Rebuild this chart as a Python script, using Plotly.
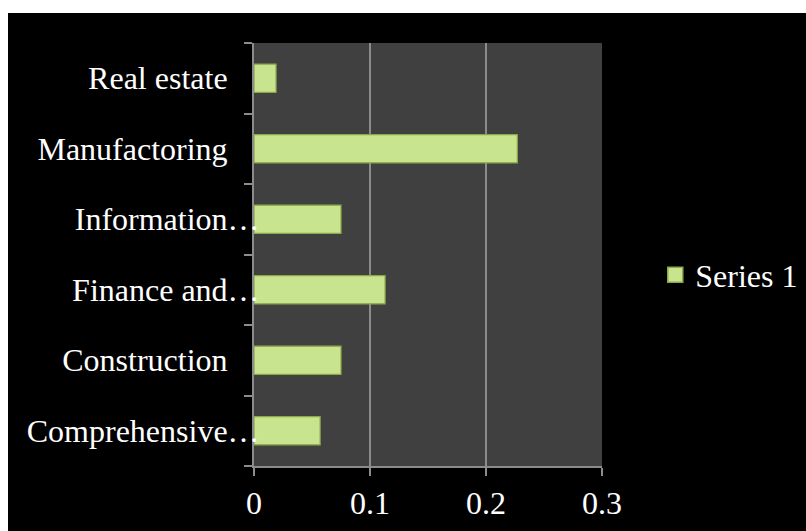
import plotly.graph_objects as go

categories = ["Comprehensive…", "Construction", "Finance and…", "Information…", "Manufactoring", "Real estate"]
tick_labels = ["Comprehensive…", "Construction\u00a0\u00a0\u00a0\u00a0", "Finance and…",
               "Information…", "Manufactoring\u00a0\u00a0\u00a0\u00a0", "Real estate\u00a0\u00a0\u00a0\u00a0"]
values = [0.057, 0.075, 0.113, 0.075, 0.227, 0.019]
x_ticks = [0, 0.1, 0.2, 0.3]
x_tick_labels = ["0", "0.1", "0.2", "0.3"]
series_name = "Series 1"

FONT = "Liberation Serif, Times New Roman, serif"
FS = 32
BAR_FILL = "#c9e48e"
BAR_EDGE = "#8ca94a"

fig = go.Figure()
fig.add_trace(go.Bar(
    y=categories, x=values, orientation="h", name=series_name, showlegend=False,
    marker=dict(color=BAR_FILL, line=dict(color=BAR_EDGE, width=1.2)),
))
# legend entry with a larger square swatch
fig.add_trace(go.Scatter(
    x=[None], y=[None], mode="markers", name=series_name, showlegend=True,
    marker=dict(symbol="square", size=15, color=BAR_FILL, line=dict(color=BAR_EDGE, width=1.5)),
))

fig.update_layout(
    width=806, height=531, autosize=False,
    margin=dict(l=254, r=204, t=43, b=65, autoexpand=False),
    paper_bgcolor="black", plot_bgcolor="#404040",
    font=dict(family=FONT, size=FS, color="white"),
    bargap=0.6,
    showlegend=True,
    legend=dict(xref="container", yref="container", x=0.813, y=(531 - 275) / 531,
                xanchor="left", yanchor="middle",
                bgcolor="rgba(0,0,0,0)", font=dict(size=FS, color="white"),
                itemwidth=30),
    shapes=[
        dict(type="rect", xref="paper", yref="paper", x0=-254/348, x1=(806-254)/348,
             y0=1 + 30/423, y1=1 + 43/423, fillcolor="white", line=dict(width=0), layer="above"),
        dict(type="rect", xref="paper", yref="paper", x0=-254/348, x1=-246/348,
             y0=-65/423, y1=1 + 43/423, fillcolor="white", line=dict(width=0), layer="above"),
    ],
)
fig.update_xaxes(
    range=[0, 0.3], tickvals=x_ticks, ticktext=x_tick_labels,
    showgrid=True, gridcolor="#8c8c8c", gridwidth=1.5,
    showline=True, linecolor="#8c8c8c", linewidth=2,
    ticks="outside", ticklen=8, tickcolor="#8c8c8c", tickwidth=1.5,
    zeroline=False, tickfont=dict(size=FS, color="white"), automargin=False,
)
fig.update_yaxes(
    categoryorder="array", categoryarray=categories,
    tickvals=categories, ticktext=tick_labels,
    showgrid=False, showline=True, linecolor="#8c8c8c", linewidth=2,
    ticks="outside", ticklen=8, tickcolor="#8c8c8c", tickwidth=1.5,
    tickson="boundaries", tickfont=dict(size=FS, color="white"),
    ticklabelstandoff=-14, automargin=False,
)

fig.write_html(
    "out.html",
    post_script="document.body.style.margin='0';document.body.style.background='black';"
                "document.documentElement.style.background='black';",
)
